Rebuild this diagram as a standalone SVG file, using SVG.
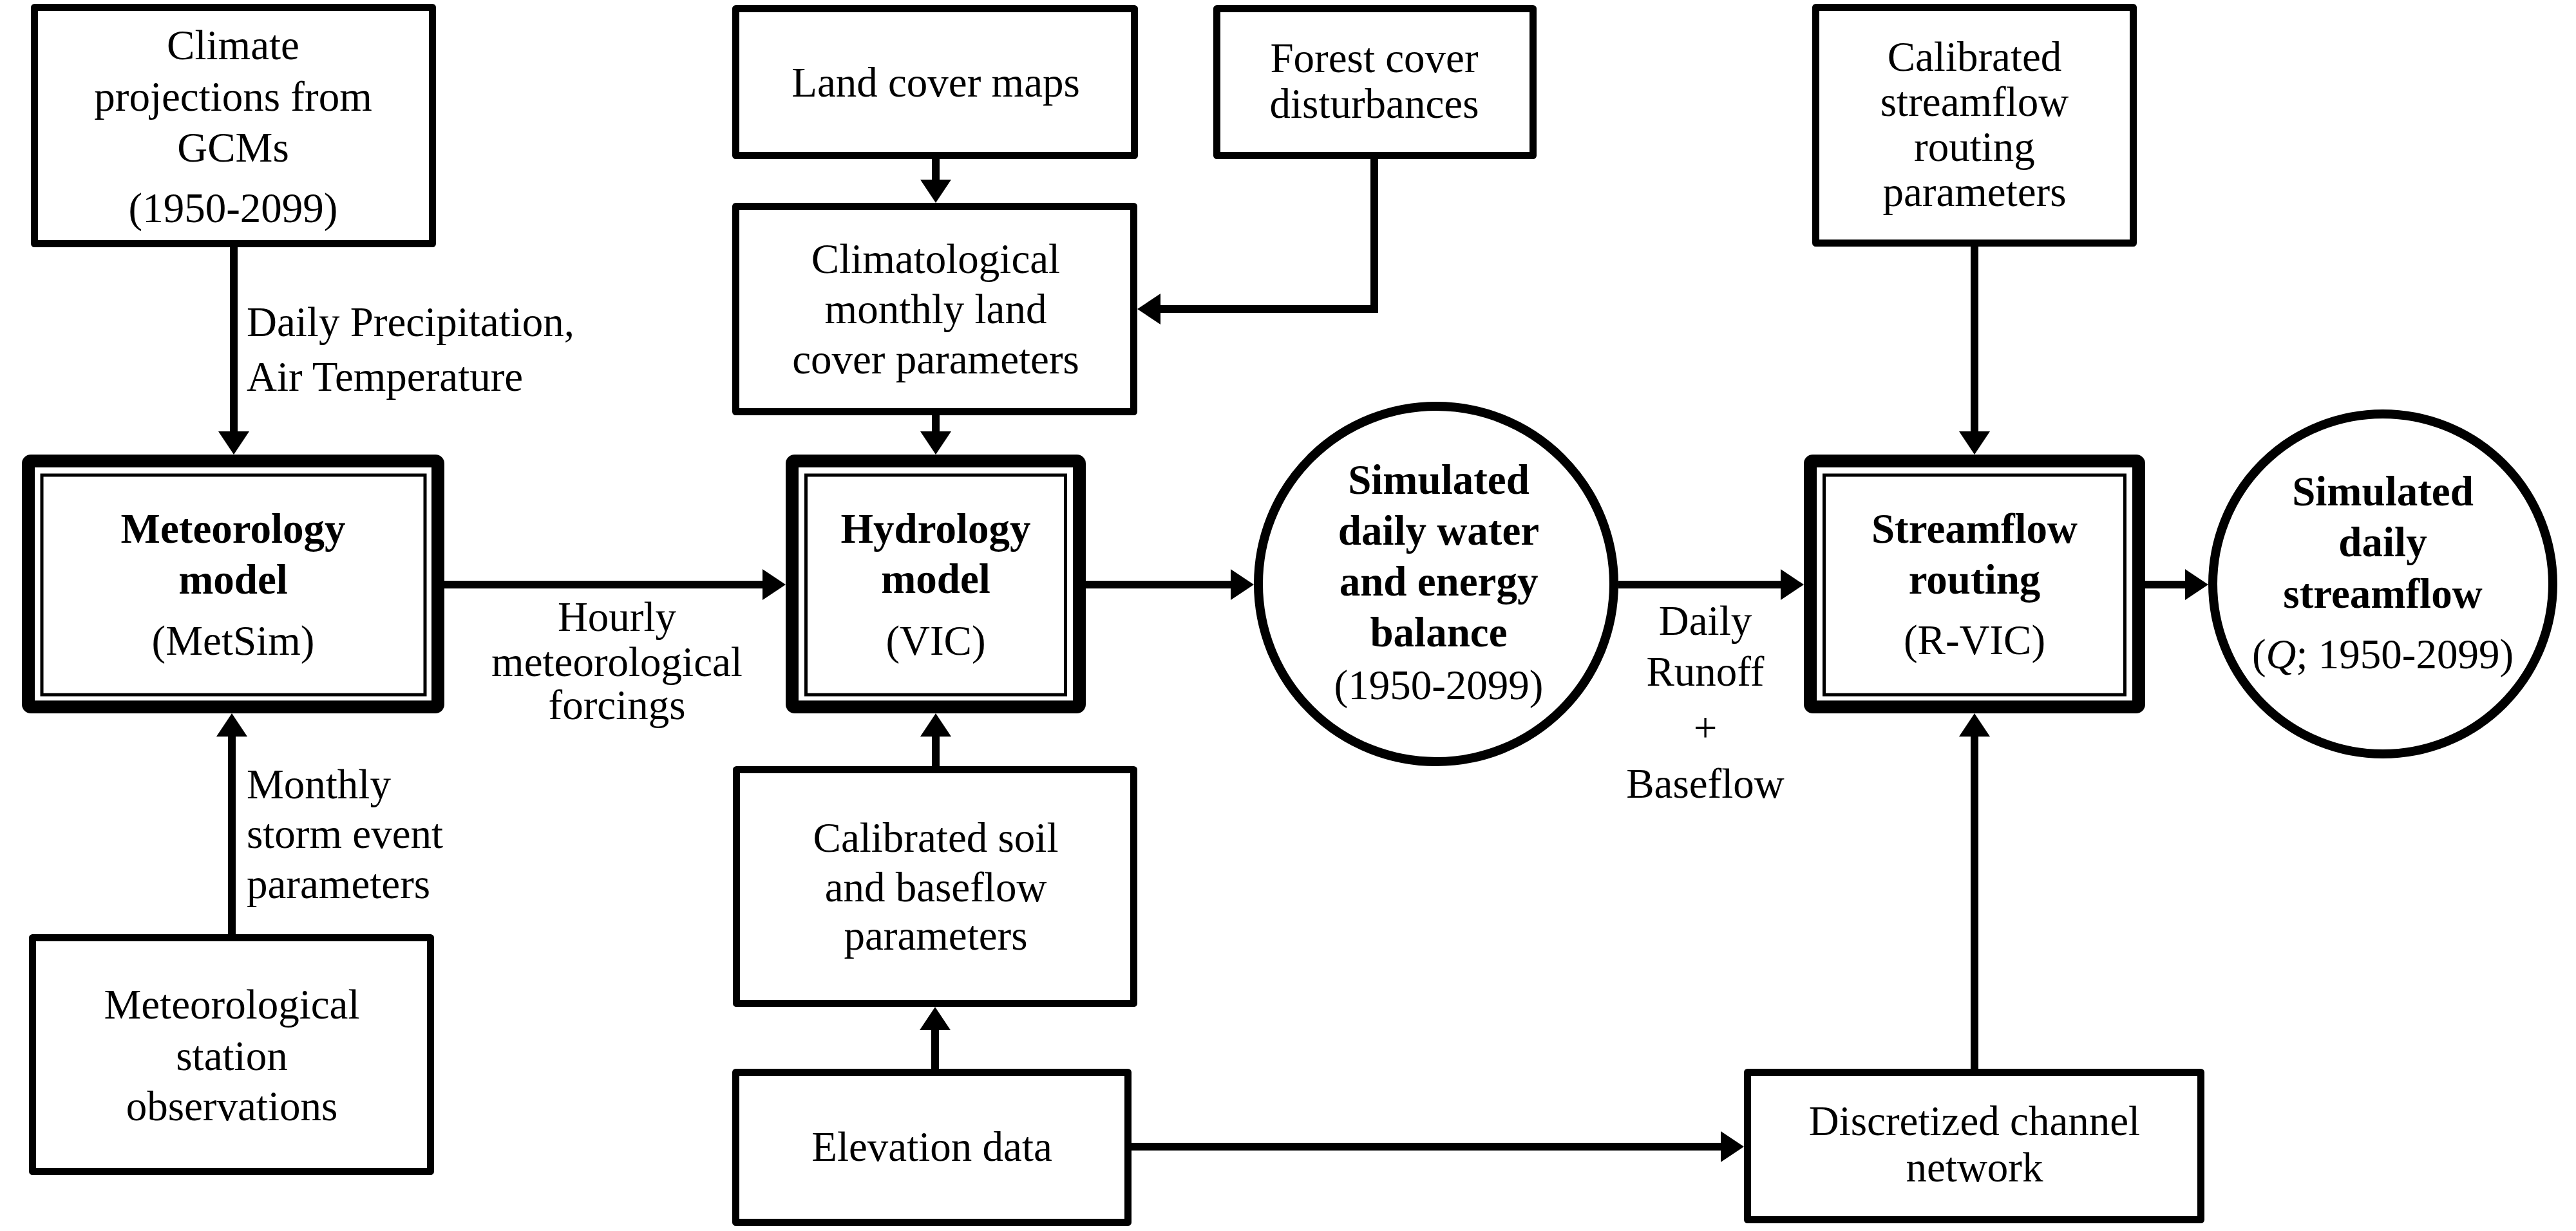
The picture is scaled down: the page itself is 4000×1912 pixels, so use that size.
<svg xmlns="http://www.w3.org/2000/svg" width="4000" height="1912" viewBox="0 0 4000 1912">
<defs>
<style>
.box{fill:#fff;stroke:#000;stroke-width:11;stroke-linejoin:round}
.mo{fill:#fff;stroke:#000;stroke-width:20;stroke-linejoin:round}
.mi{fill:none;stroke:#000;stroke-width:5}
.circ{fill:#fff;stroke:#000;stroke-width:14}
.conn{fill:none;stroke:#000;stroke-width:12;stroke-linejoin:miter;marker-end:url(#ah)}
text{font-family:"Liberation Serif","Times New Roman",serif;font-size:65px;fill:#000;text-anchor:middle}
.b{font-weight:bold}
.l{text-anchor:start}
</style>
<marker id="ah" viewBox="0 0 36 48" refX="2" refY="24" markerWidth="36" markerHeight="48" markerUnits="userSpaceOnUse" orient="auto">
<path d="M0,0 L36,24 L0,48 Z" fill="#000"/>
</marker>
</defs>
<rect width="4000" height="1912" fill="#fff"/>

<g id="connectors">
<path class="conn" d="M363,384 V672"/>
<path class="conn" d="M360,1451 V1142"/>
<path class="conn" d="M690,908 H1186"/>
<path class="conn" d="M1453,247 V281"/>
<path class="conn" d="M2134,247 V480 H1800"/>
<path class="conn" d="M1453,645 V672"/>
<path class="conn" d="M1453,1190 V1142"/>
<path class="conn" d="M1452,1660 V1598"/>
<path class="conn" d="M1757,1781 H2674"/>
<path class="conn" d="M1686,908 H1913"/>
<path class="conn" d="M2513,908 H2767"/>
<path class="conn" d="M3066,383 V672"/>
<path class="conn" d="M3066,1660 V1142"/>
<path class="conn" d="M3331,908 H3395"/>
<text class="l" x="383" y="522">Daily Precipitation,</text>
<text class="l" x="383" y="607">Air Temperature</text>
<text class="l" x="383" y="1240">Monthly</text>
<text class="l" x="383" y="1317">storm event</text>
<text class="l" x="383" y="1395">parameters</text>
<text x="958" y="980">Hourly</text>
<text x="958" y="1050">meteorological</text>
<text x="958" y="1117">forcings</text>
<text x="2648" y="986">Daily</text>
<text x="2648" y="1065">Runoff</text>
<text x="2648" y="1152">+</text>
<text x="2648" y="1239">Baseflow</text>
</g>

<g id="climate">
<rect class="box" x="53.5" y="11.5" width="618" height="367"/>
<text x="362" y="92">Climate</text>
<text x="362" y="172">projections from</text>
<text x="362" y="251">GCMs</text>
<text x="362" y="345">(1950-2099)</text>
</g>

<g id="meteorology-model">
<rect class="mo" x="44" y="716" width="636" height="382" rx="4"/>
<rect class="mi" x="65" y="738" width="595" height="341"/>
<text class="b" x="362" y="843">Meteorology</text>
<text class="b" x="362" y="922">model</text>
<text x="362" y="1017">(MetSim)</text>
</g>

<g id="station-observations">
<rect class="box" x="50.5" y="1456.5" width="618" height="363"/>
<text x="360" y="1582">Meteorological</text>
<text x="360" y="1662">station</text>
<text x="360" y="1740">observations</text>
</g>

<g id="land-cover-maps">
<rect class="box" x="1142.5" y="13.5" width="619" height="228"/>
<text x="1453" y="150">Land cover maps</text>
</g>

<g id="forest-cover">
<rect class="box" x="1889.5" y="13.5" width="491" height="228"/>
<text x="2134" y="112">Forest cover</text>
<text x="2134" y="183">disturbances</text>
</g>

<g id="land-cover-parameters">
<rect class="box" x="1142.5" y="320.5" width="618" height="319"/>
<text x="1453" y="424">Climatological</text>
<text x="1453" y="502">monthly land</text>
<text x="1453" y="580">cover parameters</text>
</g>

<g id="hydrology-model">
<rect class="mo" x="1230" y="716" width="446" height="382" rx="4"/>
<rect class="mi" x="1251.5" y="738" width="403" height="341"/>
<text class="b" x="1453" y="843">Hydrology</text>
<text class="b" x="1453" y="921">model</text>
<text x="1453" y="1017">(VIC)</text>
</g>

<g id="soil-parameters">
<rect class="box" x="1143.5" y="1195.5" width="617" height="363"/>
<text x="1453" y="1323">Calibrated soil</text>
<text x="1453" y="1400">and baseflow</text>
<text x="1453" y="1475">parameters</text>
</g>

<g id="elevation-data">
<rect class="box" x="1142.5" y="1665.5" width="609" height="233"/>
<text x="1447" y="1803">Elevation data</text>
</g>

<g id="water-energy-balance">
<circle class="circ" cx="2230" cy="907" r="276"/>
<text class="b" x="2234" y="767">Simulated</text>
<text class="b" x="2234" y="846">daily water</text>
<text class="b" x="2234" y="925">and energy</text>
<text class="b" x="2234" y="1004">balance</text>
<text x="2234" y="1086">(1950-2099)</text>
</g>

<g id="routing-parameters">
<rect class="box" x="2819.5" y="11.5" width="493" height="366"/>
<text x="3066" y="110">Calibrated</text>
<text x="3066" y="180">streamflow</text>
<text x="3066" y="250">routing</text>
<text x="3066" y="320">parameters</text>
</g>

<g id="streamflow-routing">
<rect class="mo" x="2811" y="716" width="510" height="382" rx="4"/>
<rect class="mi" x="2832.5" y="738" width="467" height="341"/>
<text class="b" x="3066" y="843">Streamflow</text>
<text class="b" x="3066" y="922">routing</text>
<text x="3066" y="1016">(R-VIC)</text>
</g>

<g id="channel-network">
<rect class="box" x="2713.5" y="1665.5" width="704" height="229"/>
<text x="3066" y="1763">Discretized channel</text>
<text x="3066" y="1835">network</text>
</g>

<g id="daily-streamflow">
<circle class="circ" cx="3700" cy="907" r="264"/>
<text class="b" x="3700" y="785">Simulated</text>
<text class="b" x="3700" y="864">daily</text>
<text class="b" x="3700" y="944">streamflow</text>
<text x="3700" y="1038">(<tspan font-style="italic">Q</tspan>; 1950-2099)</text>
</g>
</svg>
